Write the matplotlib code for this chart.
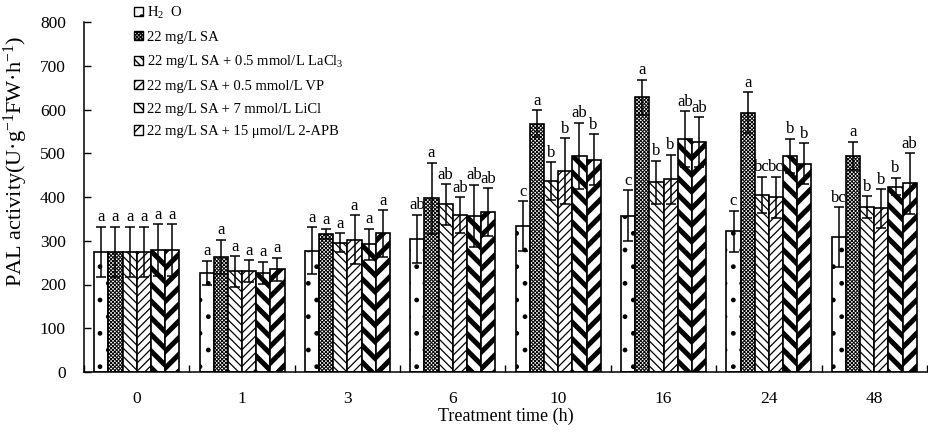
import numpy as np
import matplotlib
matplotlib.use("Agg")
import matplotlib.pyplot as plt

plt.rcParams['font.family'] = ['Liberation Serif', 'DejaVu Serif']
plt.rcParams['mathtext.fontset'] = 'custom'
plt.rcParams['mathtext.rm'] = 'Liberation Serif'
plt.rcParams['mathtext.it'] = 'Liberation Serif:italic'

times = ['0', '1', '3', '6', '10', '16', '24', '48']
treatments = ['H$_2$  O', '22 mg/L SA', '22 mg/L SA + 0.5 mmol/L LaCl$_3$',
              '22 mg/L SA + 0.5 mmol/L VP', '22 mg/L SA + 7 mmol/L LiCl',
              '22 mg/L SA + 15 \u03bcmol/L 2-APB']

h2o   = [275, 227, 277, 305, 334, 357, 322, 308]
sa    = [275, 263, 315, 397, 568, 628, 593, 494]
lacl3 = [275, 230, 296, 383, 436, 434, 405, 377]
vp    = [275, 231, 302, 359, 460, 441, 399, 374]
licl  = [279, 227, 292, 357, 494, 532, 494, 424]
apb   = [279, 235, 317, 366, 485, 525, 476, 431]

h2o_err   = [57, 27, 54, 55, 57, 58, 47, 69]
sa_err    = [57, 39, 12, 81, 31, 40, 47, 32]
lacl3_err = [57, 35, 21, 46, 43, 49, 41, 25]
vp_err    = [57, 25, 56, 41, 75, 56, 47, 44]
licl_err  = [59, 25, 36, 71, 76, 64, 39, 20]
apb_err   = [59, 26, 53, 54, 58, 57, 47, 69]

h2o_let   = ['a', 'a', 'a', 'ab', 'c', 'c', 'c', 'bc']
sa_let    = ['a', 'a', 'a', 'a', 'a', 'a', 'a', 'a']
lacl3_let = ['a', 'a', 'a', 'ab', 'b', 'b', 'bc', 'b']
vp_let    = ['a', 'a', 'a', 'ab', 'b', 'b', 'bc', 'b']
licl_let  = ['a', 'a', 'a', 'ab', 'ab', 'ab', 'b', 'b']
apb_let   = ['a', 'a', 'a', 'ab', 'b', 'ab', 'b', 'ab']

values = [h2o, sa, lacl3, vp, licl, apb]
errors = [h2o_err, sa_err, lacl3_err, vp_err, licl_err, apb_err]
letters = [h2o_let, sa_let, lacl3_let, vp_let, licl_let, apb_let]
hatches = ['.', 'xxxxxxxxx', '\\\\\\\\', '////', '\\\\', '//']
hatch_lw = [1.0, 0.7, 0.9, 0.9, 3.6, 3.6]

fig = plt.figure(figsize=(9.29, 4.33), dpi=100)
ax = fig.add_axes([84/929, 61/433, 843/929, 350/433])

n = len(times)
x = np.arange(n)
w = 0.1345
for i in range(6):
    pos = x + (i - 2.5) * w
    bars = ax.bar(pos, values[i], width=w, facecolor='white', edgecolor='black',
                  linewidth=1.2, hatch=hatches[i], zorder=2)
    for b in bars:
        if hasattr(b, 'set_hatch_linewidth'):
            b.set_hatch_linewidth(hatch_lw[i])
    ax.errorbar(pos, values[i], yerr=errors[i], fmt='none', ecolor='black',
                elinewidth=1.1, capsize=3.3, capthick=1.1, zorder=3)
    for j in range(n):
        ax.annotate(letters[i][j], (pos[j], values[i][j] + errors[i][j]),
                    xytext=(0, 1.0), textcoords='offset points',
                    ha='center', va='bottom', fontsize=12)

ax.set_xlim(-0.5, n - 0.5)
ax.set_ylim(0, 800)
ax.set_yticks(np.arange(0, 801, 100))
ax.tick_params(axis='y', direction='in', length=5, width=1, labelsize=12.5, pad=13)
ax.set_xticks(np.arange(-0.5, n, 1.0))
ax.set_xticklabels([])
ax.tick_params(axis='x', which='major', direction='in', length=5, width=1)
ax.set_xticks(x, minor=True)
ax.set_xticklabels(times, minor=True)
ax.tick_params(axis='x', which='minor', length=0, labelsize=12.5, pad=14)
for s in ['top', 'right']:
    ax.spines[s].set_visible(False)
for s in ['left', 'bottom']:
    ax.spines[s].set_linewidth(1.1)

ax.set_xlabel('Treatment time (h)', fontsize=13, labelpad=0)
ax.set_ylabel('PAL activity(U\u00b7g$^{\\mathregular{-1}}$FW\u00b7h$^{\\mathregular{-1}}$)',
              fontsize=16)
ax.yaxis.set_label_coords((30 - 84) / 843, (372 - 161) / 350)

handles = [plt.Rectangle((0, 0), 1, 1, facecolor='white', edgecolor='black',
                         hatch=hatches[i], linewidth=1.0) for i in range(6)]
leg = ax.legend(handles, treatments, loc='upper left',
                bbox_to_anchor=(134/929, 1 - 5/433), bbox_transform=fig.transFigure,
                frameon=False, fontsize=10.5, handlelength=0.6, handleheight=0.6,
                handletextpad=0.3, labelspacing=0.66, borderpad=0, borderaxespad=0)

fig.savefig('out.png', dpi=100)
